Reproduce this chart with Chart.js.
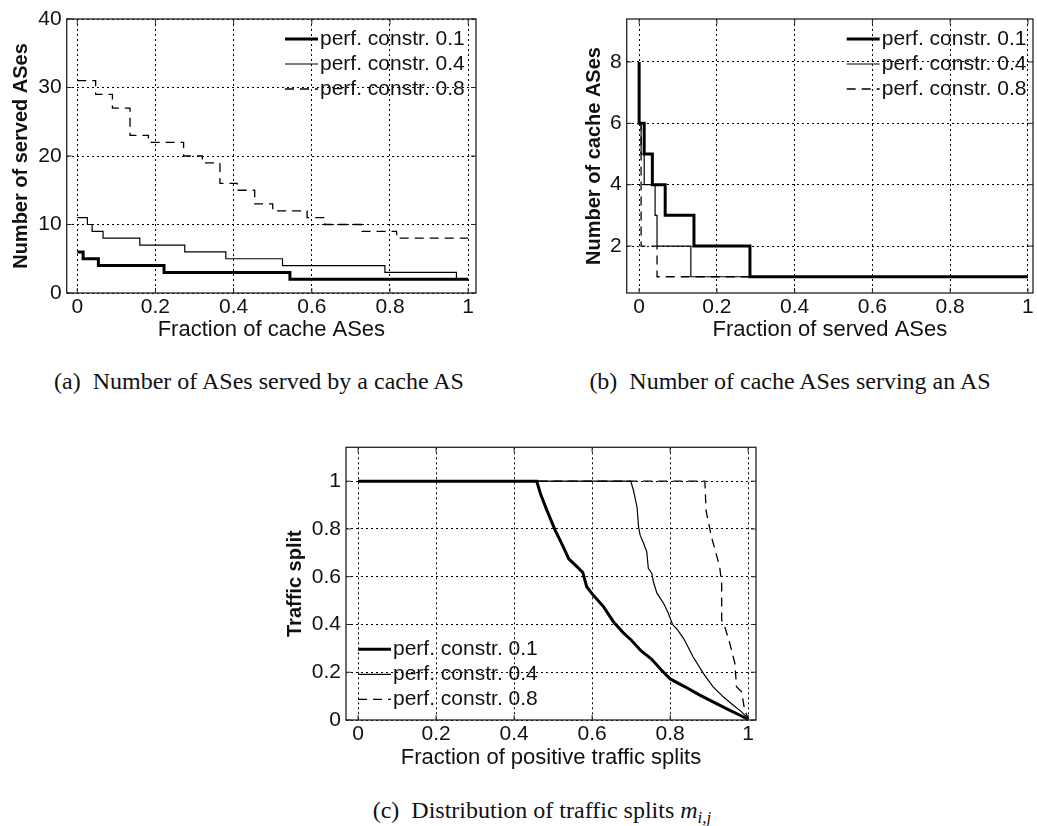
<!DOCTYPE html>
<html>
<head>
<meta charset="utf-8">
<script src="https://cdn.jsdelivr.net/npm/chart.js@4.4.1/dist/chart.umd.min.js"></script>
<style>
  body { margin: 0; background: #fff; }
  #page { position: relative; width: 1037px; height: 826px; }
  canvas { position: absolute; }
  .cap {
    position: absolute;
    font-family: "Liberation Serif", "Times New Roman", serif;
    font-size: 24px;
    line-height: 24px;
    color: #111;
    text-align: center;
    white-space: nowrap;
  }
  .cap sub { font-size: 17px; vertical-align: -5px; line-height: 0; }
</style>
</head>
<body>
<div id="page">
  <canvas id="served" width="520" height="345" style="left:0;top:0"></canvas>
  <canvas id="caches" width="517" height="345" style="left:520px;top:0"></canvas>
  <canvas id="splits" width="520" height="352" style="left:260px;top:420px"></canvas>
  <div class="cap" style="left:0;width:518px;top:369px">(a)&nbsp; Number of ASes served by a cache AS</div>
  <div class="cap" style="left:560px;width:460px;top:369px">(b)&nbsp; Number of cache ASes serving an AS</div>
  <div class="cap" style="left:342px;width:400px;top:798px">(c)&nbsp; Distribution of traffic splits <i>m</i><sub><i>i,j</i></sub></div>
</div>
<script>
const labels = ['perf. constr. 0.1', 'perf. constr. 0.4', 'perf. constr. 0.8'];
const fracTicks = [0, 0.2, 0.4, 0.6, 0.8, 1];
const servedTicks = [0, 10, 20, 30, 40];
const cacheTicks = [2, 4, 6, 8];
const splitTicks = [0, 0.2, 0.4, 0.6, 0.8, 1];

// (a) served ASes per cache AS, step curves (x = where each level starts)
const servedX1 = [0, 0.015, 0.054, 0.222, 0.544, 1];
const servedY1 = [6, 5, 4, 3, 2, 2];
const servedX4 = [0, 0.026, 0.038, 0.066, 0.160, 0.275, 0.380, 0.525, 0.787, 0.970, 1];
const servedY4 = [11, 10, 9, 8, 7, 6, 5, 4, 3, 2, 2];
const servedX8 = [0, 0.047, 0.090, 0.135, 0.182, 0.272, 0.320, 0.365, 0.409, 0.454, 0.500, 0.588, 0.633, 0.727, 0.817, 1];
const servedY8 = [31, 29, 27, 23, 22, 20, 19, 16, 15, 13, 12, 11, 10, 9, 8, 8];

// (b) cache ASes per served AS, step curves
const cacheX1 = [0, 0, 0.013, 0.034, 0.067, 0.141, 0.285, 1];
const cacheY1 = [8, 6, 5, 4, 3, 2, 1, 1];
const cacheX4 = [0, 0.005, 0.013, 0.041, 0.046, 0.133, 1];
const cacheY4 = [6, 5, 4, 3, 2, 1, 1];
const cacheX8 = [0, 0.005, 0.046, 1];
const cacheY8 = [6, 2, 1, 1];

// (c) traffic split distribution
const splitX1 = [0, 0.458, 0.468, 0.484, 0.505, 0.526, 0.540, 0.561, 0.576, 0.586, 0.603, 0.629, 0.655, 0.680, 0.700, 0.725, 0.752, 0.778, 0.800, 0.838, 0.876, 0.910, 0.944, 0.979, 1];
const splitY1 = [1, 1, 0.945, 0.878, 0.795, 0.725, 0.675, 0.642, 0.618, 0.558, 0.522, 0.475, 0.410, 0.365, 0.335, 0.290, 0.255, 0.208, 0.172, 0.139, 0.104, 0.076, 0.048, 0.020, 0.002];
const splitX4 = [0, 0.699, 0.706, 0.715, 0.719, 0.723, 0.732, 0.740, 0.744, 0.753, 0.757, 0.766, 0.783, 0.795, 0.806, 0.820, 0.835, 0.859, 0.885, 0.910, 0.936, 0.962, 0.983, 1];
const splitY4 = [1, 1, 0.961, 0.892, 0.808, 0.774, 0.739, 0.704, 0.635, 0.614, 0.579, 0.531, 0.489, 0.448, 0.400, 0.375, 0.340, 0.264, 0.195, 0.139, 0.097, 0.062, 0.034, 0.006];
const splitX8 = [0, 0.889, 0.892, 0.897, 0.906, 0.919, 0.927, 0.932, 0.932, 0.940, 0.953, 0.966, 0.970, 0.983, 0.991, 1];
const splitY8 = [1, 1, 0.877, 0.836, 0.766, 0.689, 0.641, 0.571, 0.418, 0.390, 0.320, 0.236, 0.139, 0.118, 0.041, 0.006];

const FONT = '"Liberation Sans", Arial, Helvetica, sans-serif';
Chart.defaults.font.family = FONT;
Chart.defaults.font.size = 21;
Chart.defaults.color = '#111';

const lineStyles = [
  { borderWidth: 3 },
  { borderWidth: 1.2 },
  { borderWidth: 1.3, borderDash: [9, 6] }
];

function pts(xs, ys) {
  return xs.map((x, i) => ({ x: x, y: ys[i] }));
}

// closed box with small inward tick marks, matlab style
const frame = {
  id: 'frame',
  afterDatasetsDraw(chart) {
    const { ctx, chartArea: ca, scales } = chart;
    ctx.save();
    ctx.strokeStyle = '#222';
    ctx.lineWidth = 1.3;
    ctx.setLineDash([]);
    ctx.strokeRect(ca.left, ca.top, ca.width, ca.height);
    ctx.lineWidth = 1;
    ctx.beginPath();
    scales.x.ticks.forEach(t => {
      const p = scales.x.getPixelForValue(t.value);
      ctx.moveTo(p, ca.bottom); ctx.lineTo(p, ca.bottom - 5);
      ctx.moveTo(p, ca.top); ctx.lineTo(p, ca.top + 5);
    });
    scales.y.ticks.forEach(t => {
      const p = scales.y.getPixelForValue(t.value);
      ctx.moveTo(ca.left, p); ctx.lineTo(ca.left + 5, p);
      ctx.moveTo(ca.right, p); ctx.lineTo(ca.right - 5, p);
    });
    ctx.stroke();
    ctx.restore();
  }
};

// boxless legend inside the plot area
const lineLegend = {
  id: 'lineLegend',
  afterDraw(chart, args, opts) {
    const { ctx, chartArea: ca } = chart;
    const x0 = opts.corner === 'ne' ? ca.right - opts.dx : ca.left + opts.dx;
    const y0 = opts.corner === 'ne' ? ca.top + opts.dy : ca.bottom - opts.dy;
    ctx.save();
    ctx.font = '21px ' + FONT;
    ctx.textBaseline = 'middle';
    ctx.fillStyle = '#111';
    chart.data.datasets.forEach((ds, i) => {
      const y = y0 + i * 25;
      ctx.lineWidth = ds.borderWidth;
      ctx.strokeStyle = ds.borderColor;
      ctx.setLineDash(ds.borderDash || []);
      ctx.beginPath();
      ctx.moveTo(x0, y);
      ctx.lineTo(x0 + 33, y);
      ctx.stroke();
      ctx.fillText(ds.label, x0 + 35, y);
    });
    ctx.restore();
  }
};

function fixSize(size) {
  return s => {
    if (s.isHorizontal()) s.height = size; else s.width = size;
    s.paddingLeft = s.paddingRight = s.paddingTop = s.paddingBottom = 0;
  };
}

function plot(id, cfg) {
  const datasets = cfg.series.map((s, i) => Object.assign({
    label: labels[i],
    data: pts(s[0], s[1]),
    borderColor: '#000',
    pointRadius: 0,
    tension: 0,
    stepped: cfg.stepped ? 'before' : false
  }, lineStyles[i]));

  const grid = { color: '#000', lineWidth: 1, drawTicks: false };
  const border = { display: false, dash: [2, 3] };

  return new Chart(document.getElementById(id), {
    type: 'line',
    data: { datasets: datasets },
    plugins: [frame, lineLegend],
    options: {
      responsive: false,
      animation: false,
      layout: { padding: cfg.pad },
      plugins: {
        legend: { display: false },
        tooltip: { enabled: false },
        lineLegend: cfg.legend
      },
      scales: {
        x: {
          type: 'linear',
          min: cfg.xRange[0],
          max: cfg.xRange[1],
          afterBuildTicks: s => { s.ticks = fracTicks.map(v => ({ value: v })); },
          afterFit: fixSize(cfg.xHeight),
          grid: grid,
          border: border,
          ticks: { padding: 2, callback: v => String(v) },
          title: {
            display: true,
            text: cfg.xTitle,
            font: { size: 22 },
            padding: { top: 0, bottom: cfg.xTitlePad }
          }
        },
        y: {
          type: 'linear',
          min: cfg.yRange[0],
          max: cfg.yRange[1],
          afterBuildTicks: s => { s.ticks = cfg.yTicks.map(v => ({ value: v })); },
          afterFit: fixSize(cfg.yWidth),
          grid: grid,
          border: border,
          ticks: { padding: 5, callback: v => String(v) },
          title: {
            display: true,
            text: cfg.yTitle,
            font: { size: 20, weight: 'bold' },
            padding: { top: cfg.yTitlePad, bottom: 0 }
          }
        }
      }
    }
  });
}

plot('served', {
  series: [[servedX1, servedY1], [servedX4, servedY4], [servedX8, servedY8]],
  stepped: true,
  xRange: [-0.027, 1.02],
  yRange: [0, 40],
  yTicks: servedTicks,
  xTitle: 'Fraction of cache ASes',
  yTitle: 'Number of served ASes',
  pad: { left: 0, top: 19, right: 44, bottom: 0 },
  yWidth: 66.7,
  xHeight: 52,
  yTitlePad: 9,
  xTitlePad: 1.8,
  legend: { corner: 'ne', dx: 191, dy: 20 }
});

plot('caches', {
  series: [[cacheX1, cacheY1], [cacheX4, cacheY4], [cacheX8, cacheY8]],
  stepped: true,
  xRange: [-0.032, 1.013],
  yRange: [0.47, 9.4],
  yTicks: cacheTicks,
  xTitle: 'Fraction of served ASes',
  yTitle: 'Number of cache ASes',
  pad: { left: 50, top: 19, right: 4, bottom: 0 },
  yWidth: 56.7,
  xHeight: 52,
  yTitlePad: 12,
  xTitlePad: 1.8,
  legend: { corner: 'ne', dx: 186.3, dy: 20 }
});

plot('splits', {
  series: [[splitX1, splitY1], [splitX4, splitY4], [splitX8, splitY8]],
  stepped: false,
  xRange: [-0.031, 1.02],
  yRange: [0, 1.142],
  yTicks: splitTicks,
  xTitle: 'Fraction of positive traffic splits',
  yTitle: 'Traffic split',
  pad: { left: 10, top: 27.3, right: 24, bottom: 0 },
  yWidth: 76,
  xHeight: 52,
  yTitlePad: 13,
  xTitlePad: 1.3,
  legend: { corner: 'sw', dx: 12, dy: 70.7 }
});
</script>
</body>
</html>
